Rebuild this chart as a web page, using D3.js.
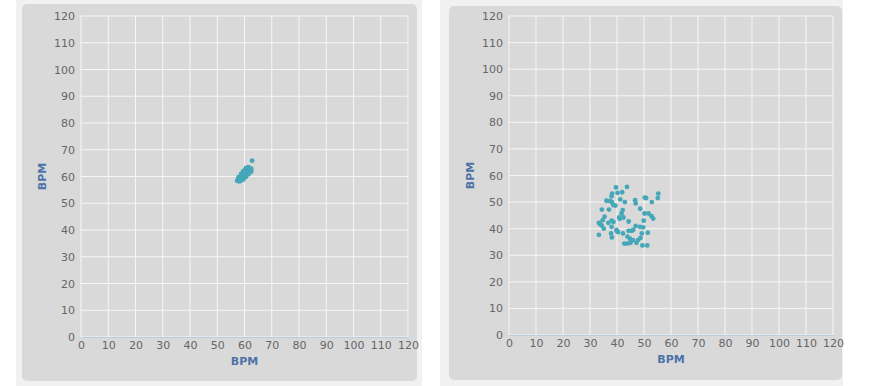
<!DOCTYPE html>
<meta charset="utf-8">
<html>
<head>
	<script src="https://cdn.jsdelivr.net/npm/d3@7"></script>
	<style>
		body { margin: 0; background: #fff; }
		.tick text { font-family: "DejaVu Sans", sans-serif; font-size: 11px; fill: #666; }
		.axis-title { font-family: "DejaVu Sans", sans-serif; font-size: 11px; font-weight: bold; fill: #4d72a8; }
	</style>
</head>
<body>
	<svg id="chart" width="870" height="386"></svg>
	<script>
	var ticks = [0,10,20,30,40,50,60,70,80,90,100,110,120];

	// left chart: tight cluster near 60 BPM
	var leftX = [57.3,57.6,57.9,58.1,58.3,58.0,58.5,58.8,59.0,58.6,59.2,59.4,59.6,59.1,59.8,60.0,60.2,59.7,60.4,60.6,60.1,60.8,61.0,61.2,60.5,61.4,61.6,61.8,62.0,62.3,62.5,61.3,60.9,59.5,58.9,58.5,59.5,60.5,61.5,62.5,57.8,58.8,59.8,60.6,62.8];
	var leftY = [58.4,58.9,58.6,59.3,59.0,58.2,59.6,59.1,59.9,60.2,60.4,59.4,60.8,61.0,60.1,61.3,60.6,61.6,61.9,61.2,62.2,62.4,61.6,62.7,63.0,62.0,63.3,62.5,61.8,62.3,62.9,63.5,60.9,62.0,60.7,58.3,58.8,59.8,60.8,61.8,59.8,61.0,62.0,63.2,65.9];

	// right chart: wider spread 33-56 BPM
	var rightX = [39.6,43.7,38.2,40.2,41.9,36.1,37.4,38.1,38.6,39.4,41.2,42.9,46.7,46.9,50.3,50.8,52.9,55.3,55.1,34.4,37.0,42.1,41.7,40.8,42.4,41.0,48.6,50.2,51.7,52.8,53.4,35.4,34.7,33.7,34.3,33.3,36.8,38.0,38.7,44.3,49.9,35.1,38.0,39.8,40.4,37.8,38.1,33.3,42.2,44.3,45.4,46.9,48.5,49.7,49.2,51.4,43.9,44.8,42.7,43.9,45.0,45.9,47.2,47.8,49.4,51.2,48.7,38.0,40.0,46.0];
	var rightY = [55.5,55.7,53.2,53.5,53.7,50.5,50.4,50.0,48.9,48.7,51.0,50.0,50.7,49.5,51.7,51.5,50.0,53.2,51.5,47.2,47.2,47.0,45.7,44.2,44.2,43.7,47.5,45.7,45.7,44.7,43.8,44.5,43.2,41.7,41.2,42.2,42.2,43.0,42.5,42.7,43.0,40.0,40.7,39.5,38.7,38.2,36.7,37.7,38.2,39.2,39.2,41.0,40.7,40.5,38.2,38.5,37.0,36.2,34.4,34.4,34.7,35.7,34.7,35.7,33.7,33.7,36.5,52.2,39.0,39.5];

	var panels = [
		{ xs: leftX, ys: leftY, outer: [16, 0, 406, 386], inner: [22, 4, 395, 377], plot: [81, 16, 408, 337], yTitleX: 42 },
		{ xs: rightX, ys: rightY, outer: [440, 0, 403, 386], inner: [449, 6, 393, 374], plot: [509, 16, 833, 335], yTitleX: 470 }
	];

	var svg = d3.select("#chart");

	panels.forEach(function(p) {
		svg.append("rect")
			.attr("x", p.outer[0]).attr("y", p.outer[1])
			.attr("width", p.outer[2]).attr("height", p.outer[3])
			.attr("fill", "#f1f1f1");
		svg.append("rect")
			.attr("x", p.inner[0]).attr("y", p.inner[1])
			.attr("width", p.inner[2]).attr("height", p.inner[3])
			.attr("rx", 5)
			.attr("fill", "#d9d9d9");

		var x = d3.scaleLinear().domain([0, 120]).range([p.plot[0], p.plot[2]]);
		var y = d3.scaleLinear().domain([0, 120]).range([p.plot[3], p.plot[1]]);

		var g = svg.append("g");

		// grid
		g.selectAll(".vgrid").data(ticks).enter().append("line")
			.attr("x1", function(d) { return x(d); }).attr("x2", function(d) { return x(d); })
			.attr("y1", y(0)).attr("y2", y(120))
			.attr("stroke", "#f6f6f6").attr("stroke-width", 1);
		g.selectAll(".hgrid").data(ticks).enter().append("line")
			.attr("x1", x(0)).attr("x2", x(120))
			.attr("y1", function(d) { return y(d); }).attr("y2", function(d) { return y(d); })
			.attr("stroke", "#f6f6f6").attr("stroke-width", 1);

		// axes
		var xAxis = g.append("g")
			.attr("transform", "translate(0," + y(0) + ")")
			.call(d3.axisBottom(x).tickValues(ticks).tickSize(0).tickPadding(4));
		xAxis.select(".domain").attr("stroke", "#b8cde0");

		var yAxis = g.append("g")
			.attr("transform", "translate(" + (x(0) - 6) + ",0)")
			.call(d3.axisLeft(y).tickValues(ticks).tickSize(0).tickPadding(0));
		yAxis.select(".domain").remove();

		g.append("text")
			.attr("class", "axis-title")
			.attr("x", (x(0) + x(120)) / 2)
			.attr("y", y(0) + 28)
			.attr("text-anchor", "middle")
			.text("BPM");
		g.append("text")
			.attr("class", "axis-title")
			.attr("transform", "translate(" + p.yTitleX + "," + y(60) + ") rotate(-90)")
			.attr("text-anchor", "middle")
			.attr("dy", "0.35em")
			.text("BPM");

		// points
		g.selectAll(".pt").data(p.xs).enter().append("circle")
			.attr("cx", function(d) { return x(d); })
			.attr("cy", function(d, i) { return y(p.ys[i]); })
			.attr("r", 2.4)
			.attr("fill", "#45a7b8");
	});
	</script>
</body>
</html>
